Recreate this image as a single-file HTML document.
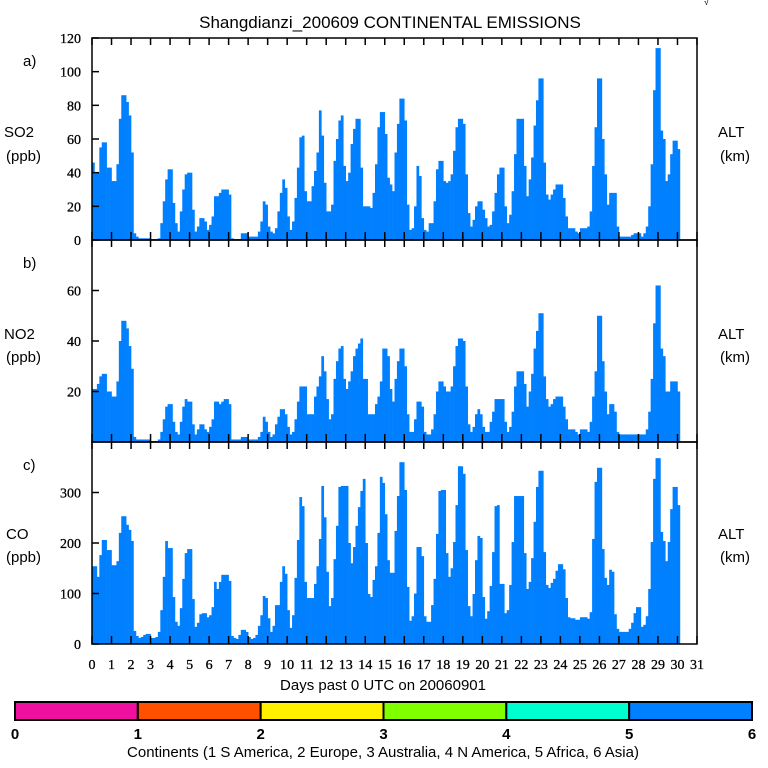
<!DOCTYPE html>
<html><head><meta charset="utf-8"><style>
html,body{margin:0;padding:0;background:#fff;}
svg{display:block;}
.s{font-family:"Liberation Sans",sans-serif;fill:#000;}
.r{font-family:"Liberation Serif",serif;fill:#000;font-size:14px;stroke:#000;stroke-width:0.3;}
</style></head><body>
<svg id="chart" width="768" height="768" viewBox="0 0 768 768" xmlns="http://www.w3.org/2000/svg">
<rect x="0" y="0" width="768" height="768" fill="#fff"/>
<text class="s" x="390" y="28" font-size="17" text-anchor="middle">Shangdianzi_200609 CONTINENTAL EMISSIONS</text>
<text class="s" x="704" y="5" font-size="9">√</text>
<text class="s" x="23" y="66" font-size="15">a)</text>
<text class="s" x="4" y="137" font-size="15">SO2</text>
<text class="s" x="6" y="161" font-size="15">(ppb)</text>
<text class="s" x="718" y="137" font-size="15">ALT</text>
<text class="s" x="720" y="161" font-size="15">(km)</text>
<text class="s" x="23" y="268" font-size="15">b)</text>
<text class="s" x="4" y="339" font-size="15">NO2</text>
<text class="s" x="6" y="362" font-size="15">(ppb)</text>
<text class="s" x="718" y="339" font-size="15">ALT</text>
<text class="s" x="720" y="362" font-size="15">(km)</text>
<text class="s" x="23" y="470" font-size="15">c)</text>
<text class="s" x="6" y="539" font-size="15">CO</text>
<text class="s" x="6" y="562" font-size="15">(ppb)</text>
<text class="s" x="718" y="539" font-size="15">ALT</text>
<text class="s" x="720" y="562" font-size="15">(km)</text>
<text class="s" x="383" y="690" font-size="15" text-anchor="middle">Days past 0 UTC on 20060901</text>
<text class="s" x="383" y="757" font-size="15" text-anchor="middle">Continents (1 S America, 2 Europe, 3 Australia, 4 N America, 5 Africa, 6 Asia)</text>
<g id="marks"></g>
<g id="axes"></g>
</svg>
<script>
const so2 = [46,40,40,55,58,58,43,43,35,35,45,72,86,86,82,74,52,
4,2,1,1,1,1,1,0.5,0.5,0.5,1,
10,23,36,42,42,22,10,5,17,30,39,40,40,
18,5,8,13,13,11,6,9,14,26,26,28,30,30,30,27,
1,0.5,0.5,0.5,4,4,4,2,2,2,2,
5,11,23,21,8,5,4,7,17,28,36,31,14,6,11,25,
43,61,62,29,23,23,32,41,52,77,62,34,17,17,21,47,
60,71,74,44,35,40,57,66,72,72,43,20,20,20,19,28,45,67,76,76,63,37,33,
29,52,69,84,84,71,21,6,7,20,44,38,13,6,5,10,10,23,
42,47,47,35,34,35,39,53,67,72,72,69,39,16,8,12,20,23,23,18,
13,8,9,17,28,39,43,43,20,10,15,29,51,72,72,72,44,26,36,49,
68,83,96,96,46,27,24,27,30,33,33,33,25,14,7,7,7,5,4,7,
7,7,8,17,44,67,96,96,60,39,21,28,28,28,8,2,2,2,2,2,
3,4,4,4,2,4,8,20,45,89,114,114,65,60,35,39,51,59,59,54];
const no2 = [21,21,23,26,27,27,20,20,18,18,24,40,48,48,45,38,29,
2,1,1,1,1,1,1,0.4,0.4,0.4,1,
4,9,14,15,15,8,4,3,8,14,17,16,16,
7,3,5,7,7,5,4,6,9,16,16,15,16,17,17,15,
1,1,1,1,2,2,2,1,1,1,1,
2,4,10,8,4,2,3,7,10,13,13,11,6,3,4,9,
16,22,22,22,11,11,11,18,22,26,34,28,17,9,11,25,
32,37,38,25,21,24,28,34,37,39,41,25,25,11,11,11,15,18,24,37,37,34,21,
16,25,32,37,37,30,11,4,4,9,16,16,14,4,3,3,5,11,
20,24,24,22,20,20,22,30,38,41,41,40,22,7,4,6,11,13,11,6,
4,4,8,12,17,17,17,17,8,4,6,12,22,28,28,28,23,14,20,27,
37,44,51,51,26,17,14,15,17,18,18,18,14,9,5,5,5,4,3,5,
5,5,4,8,18,28,50,50,32,20,11,15,15,12,4,3,3,3,3,3,
3,3,3,3,3,3,5,12,25,47,62,62,37,34,20,20,24,24,24,20];
const co = [154,154,133,176,206,206,186,186,156,156,164,220,253,253,236,226,204,
26,16,12,14,18,20,20,12,12,14,24,
67,133,204,190,190,93,44,36,71,129,180,188,188,
89,34,42,59,61,61,53,57,73,123,109,123,137,137,137,125,
16,12,10,18,28,28,24,14,10,12,18,
36,57,95,91,51,24,36,77,77,123,154,139,67,32,57,131,
206,291,273,123,91,91,91,119,154,208,313,251,143,75,91,168,
234,311,313,313,313,200,160,192,234,271,303,327,200,99,93,127,154,220,331,319,257,166,141,
141,224,293,360,360,305,113,46,55,100,192,192,174,55,44,44,77,129,
218,303,305,305,180,133,150,202,275,352,352,337,186,75,55,99,166,214,210,93,
50,65,115,182,273,275,119,119,61,67,117,202,293,293,293,293,180,109,123,170,
242,311,343,343,182,117,111,121,129,145,158,158,148,91,53,51,51,48,48,53,
53,53,50,63,208,321,349,349,188,131,117,147,143,59,30,24,24,24,24,30,
42,61,73,73,34,38,55,109,202,327,368,368,222,204,164,202,267,311,311,275];
const so2Ticks = [0,20,40,60,80,100,120];
const no2Ticks = [20,40,60];
const coTicks = [0,100,200,300];
const dayTicks = [0,1,2,3,4,5,6,7,8,9,10,11,12,13,14,15,16,17,18,19,20,21,22,23,24,25,26,27,28,29,30,31];
const colorLabels = ["0","1","2","3","4","5","6"];
const continentColors = ["#f0109f","#ff5000","#fff000","#80ff00","#00ffd0","#0080ff"];

const NS = "http://www.w3.org/2000/svg";
const X0 = 92, X1 = 697;
function xs(d){ return X0 + d*(X1-X0)/31; }
const panels = [
  {name:"so2", data:so2, top:38, bot:240, max:120, ticks:so2Ticks},
  {name:"no2", data:no2, top:240, bot:442, max:80, ticks:no2Ticks},
  {name:"co", data:co, top:442, bot:644, max:400, ticks:coTicks}
];
function ys(p,v){ return p.bot - v*(p.bot-p.top)/p.max; }
function mk(tag, attrs){ const e=document.createElementNS(NS,tag); for(const k in attrs) e.setAttribute(k,attrs[k]); return e; }
const marks = document.getElementById("marks");
const axes = document.getElementById("axes");
panels.forEach(p=>{
  const g = mk("g",{});
  
  
  p.data.forEach((v,k)=>{
    const x0 = xs(k/8), x1 = xs((k+1)/8);
    const y = ys(p,v);
    const r = mk("rect",{x:x0.toFixed(2), y:y.toFixed(2), width:(x1-x0+0.3).toFixed(2), height:(p.bot-y).toFixed(2), fill:"#0080ff"});
    
    
    g.appendChild(r);
  });
  marks.appendChild(g);
  p.ticks.forEach(t=>{
    const y = ys(p,t);
    axes.appendChild(mk("line",{x1:X0,x2:X0+7,y1:y,y2:y,stroke:"#000","stroke-width":1.5}));
    const tx = mk("text",{x:81,y:y+5,"text-anchor":"end",class:"r"});
    
    
    tx.textContent = String(t);
    axes.appendChild(tx);
  });
  dayTicks.forEach(d=>{
    const x = xs(d);
    axes.appendChild(mk("line",{x1:x,x2:x,y1:p.top,y2:p.top+7,stroke:"#000","stroke-width":1.5}));
    axes.appendChild(mk("line",{x1:x,x2:x,y1:p.bot,y2:p.bot-8,stroke:"#000","stroke-width":1.5}));
  });
  const fr = mk("rect",{x:X0,y:p.top,width:X1-X0,height:p.bot-p.top,fill:"none",stroke:"#000","stroke-width":1.5});
  
  
  axes.appendChild(fr);
});
dayTicks.forEach(d=>{
  const t = mk("text",{x:xs(d),y:669,"text-anchor":"middle",class:"r"});
  
  
  t.textContent = String(d);
  axes.appendChild(t);
});
const cbX0 = 15, cbX1 = 752, cbY = 702, cbH = 18;
const cw = (cbX1-cbX0)/continentColors.length;
continentColors.forEach((c,i)=>{
  const r = mk("rect",{x:cbX0+i*cw,y:cbY,width:cw,height:cbH,fill:c,stroke:"#000","stroke-width":2});
  
  
  axes.appendChild(r);
});
colorLabels.forEach((l,i)=>{
  const t = mk("text",{x:cbX0+i*cw,y:739,"text-anchor":"middle",class:"s","font-size":15,"font-weight":"bold"});
  
  
  t.textContent = l;
  axes.appendChild(t);
});
</script>
</body></html>
